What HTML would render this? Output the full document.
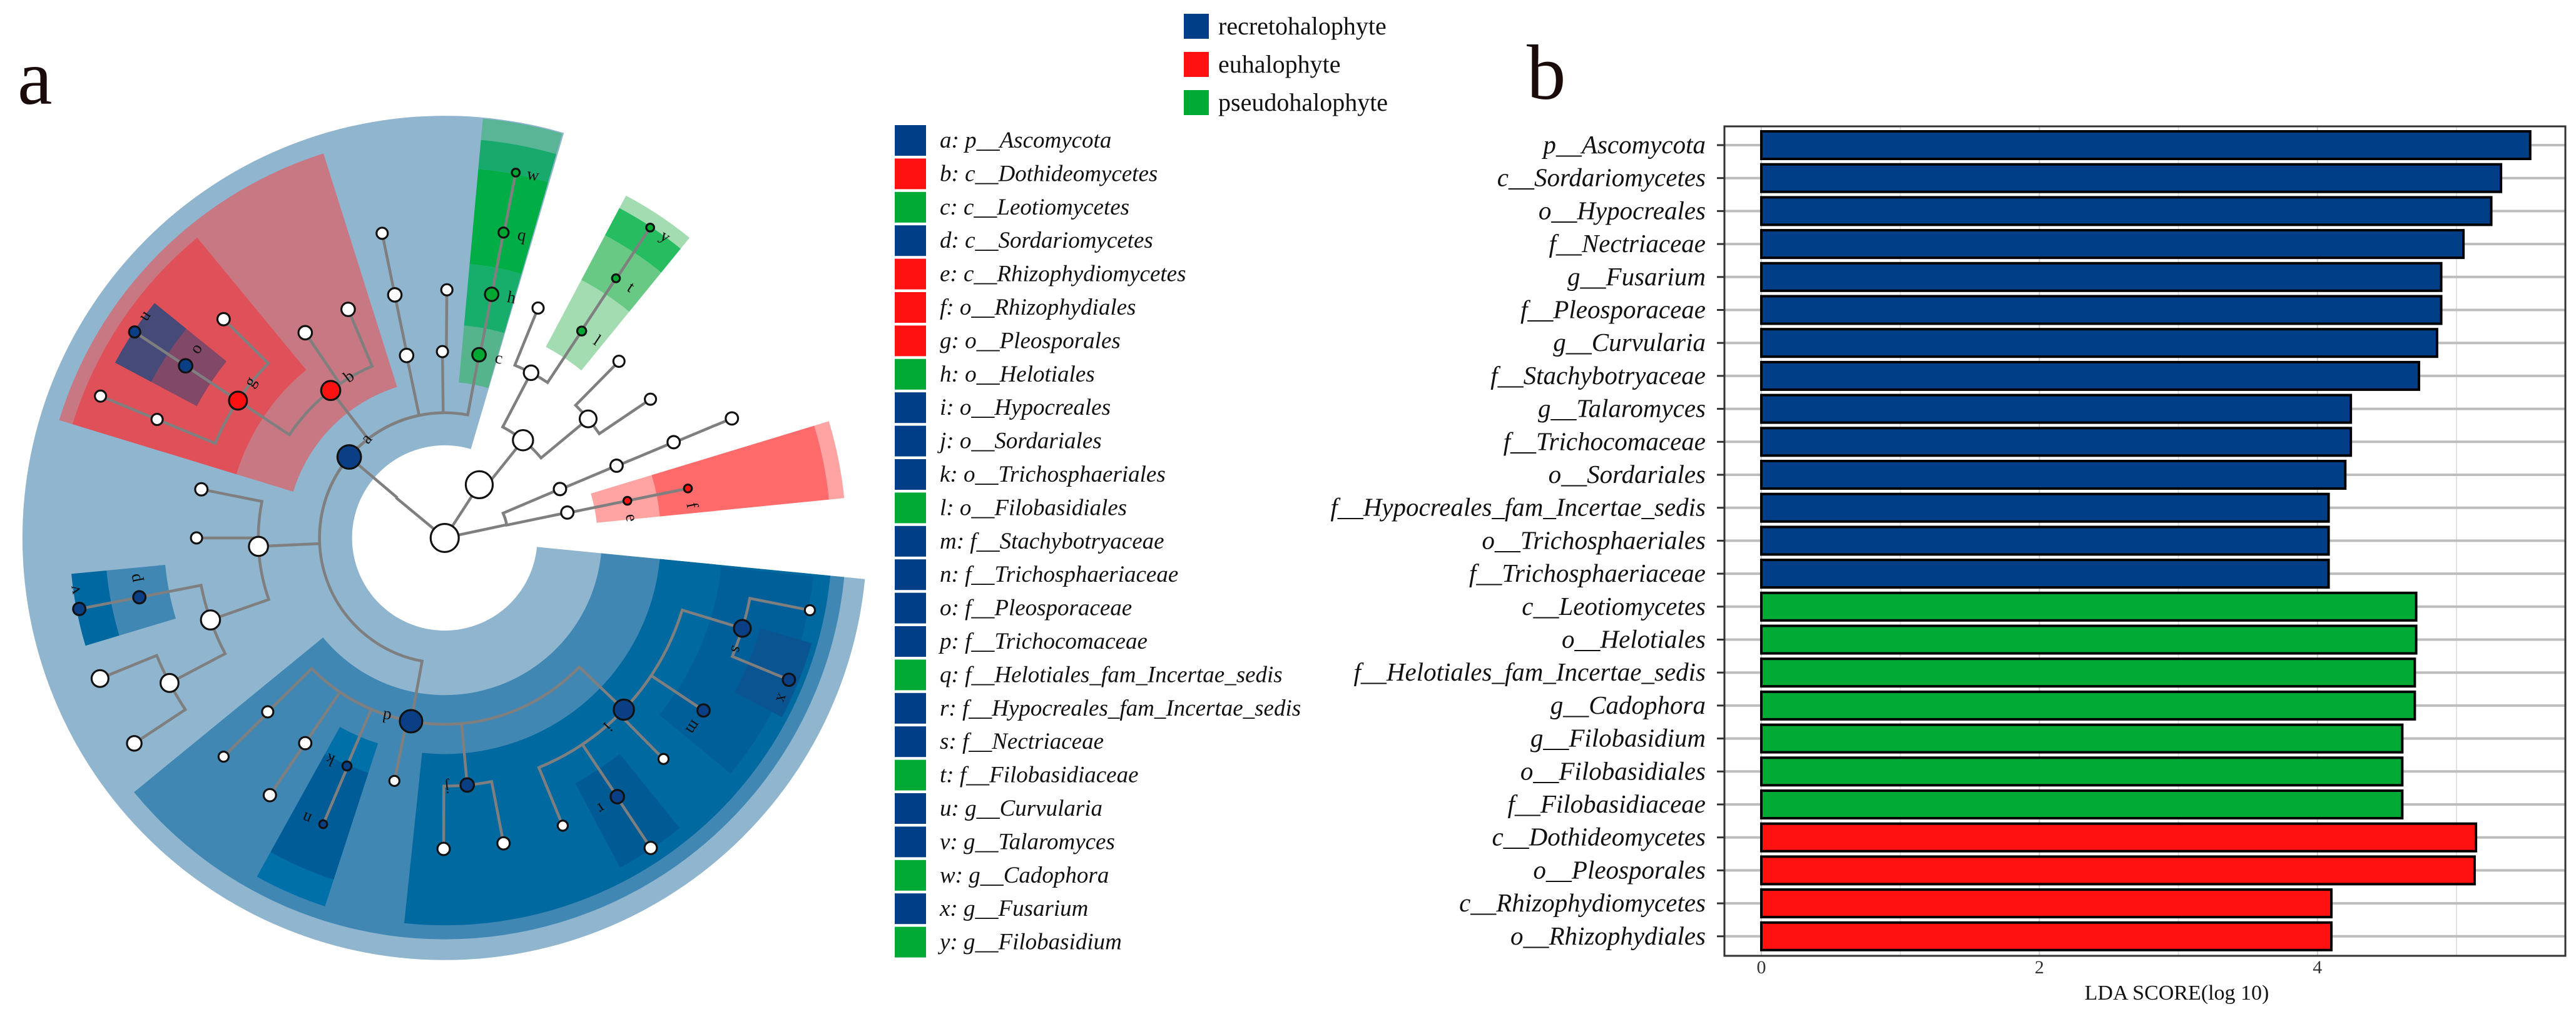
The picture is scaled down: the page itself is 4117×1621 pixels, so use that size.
<!DOCTYPE html>
<html><head><meta charset="utf-8"><style>
html,body{margin:0;padding:0;background:#fff;}
svg{display:block;}
text{font-family:"Liberation Serif",serif;}
</style></head><body>
<svg id="fig" width="4117" height="1621" viewBox="0 0 4117 1621" xmlns="http://www.w3.org/2000/svg" style="overflow:visible">
  <text x="28" y="166" font-size="125" fill="#1a0a0a">a</text>
  <text x="2440" y="158" font-size="125" fill="#1a0a0a">b</text>
  <g id="clado" transform="translate(0,221) scale(0.8974)"></g>
  <g id="legA"></g>
  <g id="legTop"></g>
  <g id="bars"></g>
</svg>
<script>
const NS="http://www.w3.org/2000/svg";
function mk(tag,attrs,parent){const e=document.createElementNS(NS,tag);for(const k in attrs)e.setAttribute(k,attrs[k]);parent.appendChild(e);return e;}

// ---------- Bar chart data ----------
const barLabels=["p__Ascomycota","c__Sordariomycetes","o__Hypocreales","f__Nectriaceae","g__Fusarium","f__Pleosporaceae","g__Curvularia","f__Stachybotryaceae","g__Talaromyces","f__Trichocomaceae","o__Sordariales","f__Hypocreales_fam_Incertae_sedis","o__Trichosphaeriales","f__Trichosphaeriaceae","c__Leotiomycetes","o__Helotiales","f__Helotiales_fam_Incertae_sedis","g__Cadophora","g__Filobasidium","o__Filobasidiales","f__Filobasidiaceae","c__Dothideomycetes","o__Pleosporales","c__Rhizophydiomycetes","o__Rhizophydiales"];
const barValues=[5.53,5.32,5.25,5.05,4.89,4.89,4.86,4.73,4.24,4.24,4.20,4.08,4.08,4.08,4.71,4.71,4.70,4.70,4.61,4.61,4.61,5.14,5.13,4.10,4.10];
const barGroups=["R","R","R","R","R","R","R","R","R","R","R","R","R","R","P","P","P","P","P","P","P","E","E","E","E"];
const xTicks=[0,2,4];
const xGrid=[0,1,2,3,4,5];
const groupColor={R:"#003f87",E:"#ff1111",P:"#00aa35"};

// ---------- Legend data ----------
const legendGroups=["recretohalophyte","euhalophyte","pseudohalophyte"];
const legendGroupKeys=["R","E","P"];
const cladeLabels=["a: p__Ascomycota","b: c__Dothideomycetes","c: c__Leotiomycetes","d: c__Sordariomycetes","e: c__Rhizophydiomycetes","f: o__Rhizophydiales","g: o__Pleosporales","h: o__Helotiales","i: o__Hypocreales","j: o__Sordariales","k: o__Trichosphaeriales","l: o__Filobasidiales","m: f__Stachybotryaceae","n: f__Trichosphaeriaceae","o: f__Pleosporaceae","p: f__Trichocomaceae","q: f__Helotiales_fam_Incertae_sedis","r: f__Hypocreales_fam_Incertae_sedis","s: f__Nectriaceae","t: f__Filobasidiaceae","u: g__Curvularia","v: g__Talaromyces","w: g__Cadophora","x: g__Fusarium","y: g__Filobasidium"];
const cladeGroups=["R","E","P","R","E","E","E","P","R","R","R","P","R","R","R","R","P","R","R","P","R","R","P","R","P"];

// ---------- Bar chart ----------
const B=document.getElementById('bars');
const PL=2756,PR=4100,PT=202,PB=1528,X0=2815,UNIT=222.2,ROW0=232,PITCH=52.7,BH=44;
const xs=v=>X0+v*UNIT;
const ys=i=>ROW0+i*PITCH;
xGrid.forEach(v=>{const l=mk('line',{x1:xs(v),x2:xs(v),y1:PT,y2:PB,stroke:v%2?"#e2e2e2":"#cfcfcf","stroke-width":2},B);
});
barLabels.forEach((lab,i)=>{
  const g=mk('line',{x1:PL,x2:PR,y1:ys(i),y2:ys(i),stroke:"#bdbdbd","stroke-width":4},B);
  
  const t=mk('line',{x1:PL-12,x2:PL,y1:ys(i),y2:ys(i),stroke:"#333","stroke-width":3},B);
  
  const r=mk('rect',{x:X0,y:ys(i)-BH/2,width:xs(barValues[i])-X0,height:BH,fill:groupColor[barGroups[i]],stroke:"#000","stroke-width":4},B);
  
  const tx=mk('text',{x:2726,y:ys(i)+13,"font-size":41,"font-style":"italic","text-anchor":"end",fill:"#111"},B);
  tx.textContent=lab;
});
const fr=mk('rect',{x:PL,y:PT,width:PR-PL,height:PB-PT,fill:"none",stroke:"#333","stroke-width":3},B);

xTicks.forEach(v=>{const t=mk('text',{x:xs(v),y:1556,"font-size":30,"text-anchor":"middle",fill:"#333"},B);t.textContent=v;
});
const xt=mk('text',{x:3479,y:1598,"font-size":34,"text-anchor":"middle",fill:"#111"},B);xt.textContent="LDA SCORE(log 10)";


// ---------- Top legend ----------
const LT=document.getElementById('legTop');
legendGroups.forEach((n,i)=>{const y=42+i*61;
  const s=mk('rect',{x:1892,y:y-20,width:40,height:40,fill:groupColor[legendGroupKeys[i]]},LT);
  
  const t=mk('text',{x:1947,y:y+13,"font-size":40,fill:"#111"},LT);t.textContent=n;
  });

// ---------- Clade legend ----------
const LA=document.getElementById('legA');
cladeLabels.forEach((n,i)=>{const y=200+i*53.4;
  const s=mk('rect',{x:1430,y:y,width:50,height:49,fill:groupColor[cladeGroups[i]]},LA);
  
  const t=mk('text',{x:1502,y:y+36,"font-size":37,"font-style":"italic",fill:"#111"},LA);t.textContent=n;
  });

// ---------- Cladogram ----------
const C=document.getElementById('clado');
const CX=792,CY=712;
const LEV=[0,113,223,332,442,554,663];
function P(a,r){const t=a*Math.PI/180;return [CX+r*Math.cos(t),CY+r*Math.sin(t)];}
function sector(r0,r1,a0,a1,fill,name){
  const p1=P(a0,r1),p2=P(a1,r1),p3=P(a1,r0),p4=P(a0,r0);const lg=(a1-a0)>180?1:0;
  const d=`M${p1}A${r1},${r1} 0 ${lg} 1 ${p2}L${p3}A${r0},${r0} 0 ${lg} 0 ${p4}Z`;
  const e=mk('path',{d:d,fill:fill},C);}
const shades=[
 [165,752,5.6,286.4,"#8fb5cf","background-ring"],
 [282,718,197,252.5,"#c87882","clade-b-shade"],
 [388,693,197,230.5,"#e05058","clade-g-shade"],
 [500,592,208,219,"#824868","clade-o-shade"],
 [592,665,208,219,"#454a78","clade-u-shade"],
 [278,380,275.2,286.2,"#55b48c","clade-c-shade"],
 [380,490,275.2,286.2,"#16ae6a","clade-h-shade"],
 [490,660,275.2,286.2,"#00ae45","clade-q-shade"],
 [660,712,275.2,286.2,"#17aa6c","clade-w-shade"],
 [712,750,275.2,286.2,"#5ab496","clade-w-outer"],
 [385,520,297.9,309.2,"#a3dcb0","clade-l-shade"],
 [520,610,297.9,309.2,"#68c984","clade-t-shade"],
 [610,665,297.9,309.2,"#26bc60","clade-y-shade"],
 [665,690,297.9,309.2,"#a3dcb0","clade-y-outer"],
 [272,385,343.1,354.3,"#ffa3a3","clade-e-shade"],
 [385,688,343.1,354.3,"#ff6b6b","clade-f-shade"],
 [688,715,343.1,354.3,"#ffa3a3","clade-f-outer"],
 [280,715,5.6,140.7,"#4087b4","clade-d-shade"],
 [385,690,5.6,96,"#0069a0","clade-i-shade"],
 [495,660,6,39.5,"#005f98","clade-m-shade"],
 [585,680,16,28,"#0a5492","clade-s-shade"],
 [495,665,51,62,"#005a94","clade-r-shade"],
 [385,690,108,119,"#0070a8","clade-k-shade"],
 [440,640,108,119,"#005c96","clade-n-shade"],
 [500,605,163.3,174.5,"#4087b4","clade-p-shade"],
 [605,668,163.3,174.5,"#0068a0","clade-v-shade"]
];
shades.forEach(s=>sector(s[0],s[1],s[2],s[3],s[4],s[5]));

const nodeIds=["root","H1","N1","H2","a","w1","w2","e","f","c2","c3","c4","c5","pb","bb1","bb2","bl1","l","t","y","bo1","bo2",
 "b","c","d","aw1","aw2","aw3","g","bw1","bw2","o","gw1","gw2","u","gw3","aw1a","aw1b","aw2a","h","q","w","aw3a","aw3b","aw3c","p","v","cw1","cw2","cw3",
 "i","j","k","dw1","dw2","dw3","dw2a","dw3a","n","jw1","jw2","s","m","r","iw1","iw2","sw1","x","rw1"];
const nodeParents=[null,"root","root","root","H1","H2","H2","w1","e","w2","c2","c3","c4","N1","pb","pb","bb1","bb1","l","t","bb2","bb2",
 "a","a","a","a","a","a","b","b","b","g","g","g","o","gw1","aw1","aw1a","aw2","c","h","q","aw3","aw3","aw3","aw3c","p","aw3c","cw1","cw1",
 "d","d","d","d","d","d","dw2","dw3","k","j","j","i","i","i","i","i","s","s","r"];
const nodeAngles=[0,219.6,-57,-12,220.3,-11.7,-23,-11.5,-11.5,-23,-22.8,-22.7,-22.6,-51.3,-62.4,-39.7,-67.9,-56.5,-56.6,-56.5,-45.4,-34,
 232.3,280.6,100.4,258.2,269.3,177.4,213.6,235.8,247.1,213.6,202.4,224.7,213.6,202.4,258.4,258.4,270.5,280.9,280.9,281,191.3,180,160.7,169,169,152.2,157.8,146.5,
 43.8,84.8,113.2,101.7,124.2,135.5,124.2,135.3,113,90.2,79.1,16.9,33.7,56.3,45.3,67.7,11.2,22.4,56.4];
const nodeLevels=[0,1,1,1,2,2,2,3,4,2,3,4,5,2,3,3,4,4,5,6,4,4,
 3,3,3,3,3,3,4,4,4,5,5,5,6,6,4,5,4,4,5,6,4,4,4,5,6,5,6,6,
 4,4,4,4,4,4,5,5,5,5,5,5,5,5,5,5,6,6,6];
const nodeSizes=[25,0,24,0,21,11,11,7,7,11,11,11,11,18,13,15,10,8,7,7,10,10,
 17,12,20,12,10,17,16,12,12,12,10,11,10,10,12,10,10,12,9,7,11,10,17,11,11,16,15,13,
 18,12,8,9,11,10,11,9,7,11,11,15,11,12,9,9,9,11,11];
const nodeColors=["W","W","W","W","R","W","W","E","E","W","W","W","W","W","W","W","W","P","P","P","W","W",
 "E","P","R","W","W","W","E","W","W","R","W","W","R","W","W","W","W","P","P","P","W","W","W","R","R","W","W","W",
 "R","R","R","W","W","W","W","W","R","W","W","R","R","R","W","W","W","R","W"];
const showLabel=["a","b","c","d","e","f","g","h","i","j","k","l","m","n","o","p","q","r","s","t","u","v","w","x","y"];
const fillOf={W:"#ffffff",R:"#0a3f85",E:"#ff1111",P:"#00a832"};
const idx={};nodeIds.forEach((n,i)=>idx[n]=i);
const EG=mk('g',{fill:"none",stroke:"#7f7f7f","stroke-width":5},C);

nodeIds.forEach((n,i)=>{const pn=nodeParents[i];if(!pn)return;const j=idx[pn];
  const pr=LEV[nodeLevels[j]],pa=nodeAngles[j],ca=nodeAngles[i],cr=LEV[nodeLevels[i]];
  const s=P(pa,pr),m=P(ca,pr),e=P(ca,cr);const sw=ca>pa?1:0;const lg=Math.abs(ca-pa)>180?1:0;
  const d=pr>0?`M${s}A${pr},${pr} 0 ${lg} ${sw} ${m}L${e}`:`M${s}L${e}`;
  const el=mk('path',{d:d},EG);});
nodeIds.forEach((n,i)=>{if(!nodeSizes[i])return;const p=P(nodeAngles[i],LEV[nodeLevels[i]]);
  const c=mk('circle',{cx:p[0],cy:p[1],r:nodeSizes[i],fill:fillOf[nodeColors[i]],stroke:"#111","stroke-width":3.5},C);
  
  if(showLabel.includes(n)){const r=LEV[nodeLevels[i]];const da=(nodeSizes[i]+24)/r*180/Math.PI;const q=P(nodeAngles[i]+da,r);
    const t=mk('text',{x:q[0],y:q[1],"font-size":30,"font-family":"Liberation Sans, sans-serif","text-anchor":"middle","dominant-baseline":"middle",fill:"#111",transform:`rotate(${nodeAngles[i]+90} ${q[0]} ${q[1]})`},C);
    t.textContent=n;}});
</script>
</body></html>
